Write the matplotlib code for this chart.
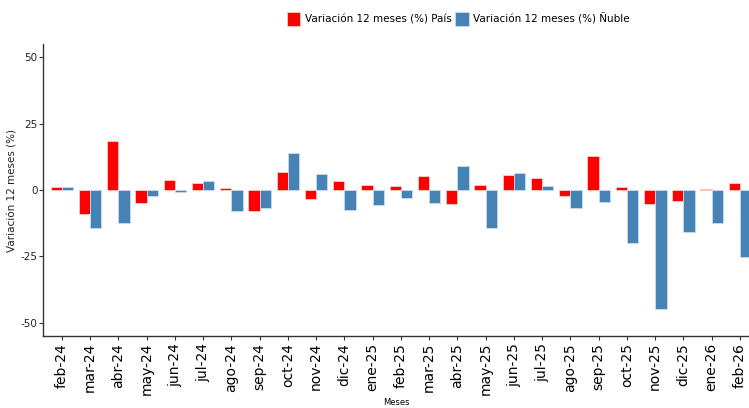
import numpy as np
import matplotlib
matplotlib.use('Agg')
import matplotlib.pyplot as plt

plt.rcParams['axes.unicode_minus'] = False
plt.rcParams['font.family'] = ['DejaVu Sans']

# 数据
meses = ['feb-24', 'mar-24', 'abr-24', 'may-24', 'jun-24', 'jul-24', 'ago-24',
         'sep-24', 'oct-24', 'nov-24', 'dic-24', 'ene-25', 'feb-25', 'mar-25',
         'abr-25', 'may-25', 'jun-25', 'jul-25', 'ago-25', 'sep-25', 'oct-25',
         'nov-25', 'dic-25', 'ene-26', 'feb-26']
pais = [1.2, -9.0, 18.5, -4.9, 3.6, 2.6, 0.7, -7.9, 6.8, -3.4, 3.5, 2.0, 1.4,
        5.4, -5.1, 2.0, 5.8, 4.6, -2.1, 12.7, 1.1, -5.1, -4.3, 0.5, 2.6]
nuble = [1.1, -14.2, -12.3, -2.3, -0.8, 3.4, -7.9, -6.9, 14.0, 6.1, -7.6, -5.8,
         -3.1, -4.9, 8.9, -14.2, 6.5, 1.6, -6.6, -4.6, -20.0, -44.7, -15.9,
         -12.5, -25.3]

fig = plt.figure(figsize=(7.49, 4.08), dpi=100)
ax = fig.add_axes([0.0574, 0.1765, 0.9426, 0.7155])

x = np.arange(len(meses))
w = 0.4
ax.bar(x - w / 2, pais, width=w, color='#ff0000', edgecolor='#ffcccc',
       linewidth=0.6, label='Variación 12 meses (%) País')
ax.bar(x + w / 2, nuble, width=w, color='#4682b4', edgecolor='#c8dcf0',
       linewidth=0.6, label='Variación 12 meses (%) Ñuble')

ax.set_xlim(-0.67, 24.32)
ax.set_ylim(-55, 55)
ax.set_yticks([-50, -25, 0, 25, 50])
ax.set_yticklabels(['-50', '-25', '0', '25', '50'], fontsize=7.5, color='#222222')
ax.set_xticks(x)
ax.set_xticklabels(meses, rotation=90, fontsize=10)
ax.tick_params(axis='both', length=3, width=0.8, color='#333333')
ax.tick_params(axis='y', pad=1)
ax.tick_params(axis='x', pad=2)

for s in ['top', 'right']:
    ax.spines[s].set_visible(False)
for s in ['left', 'bottom']:
    ax.spines[s].set_color('#333333')
    ax.spines[s].set_linewidth(1.0)

ax.set_ylabel('Variación 12 meses (%)', fontsize=7.5, labelpad=2, color='#222222')
ax.set_xlabel('Meses', fontsize=6, labelpad=1.5)

fig.legend(loc='center', bbox_to_anchor=(0.612, 0.953), ncol=2, frameon=False,
           fontsize=7.5, handlelength=1.3, handleheight=1.7, handletextpad=0.45,
           columnspacing=0.3)

fig.savefig('out.png', dpi=100)
